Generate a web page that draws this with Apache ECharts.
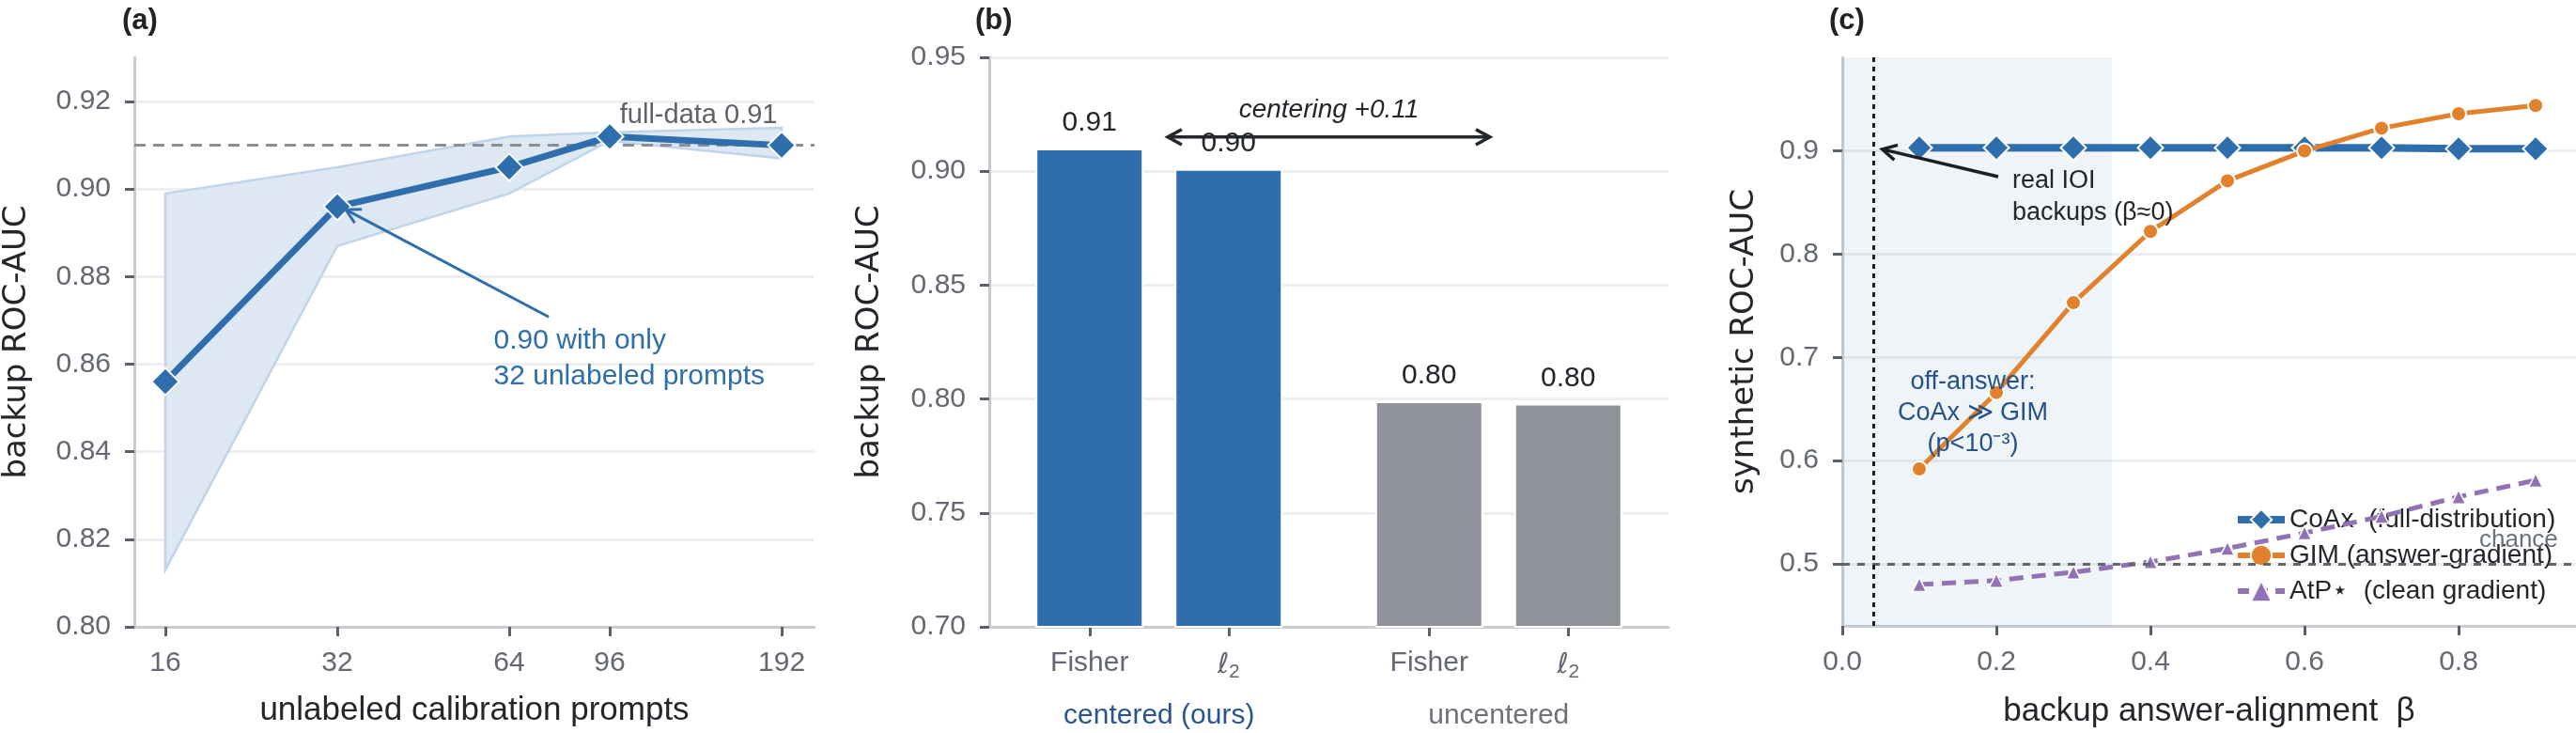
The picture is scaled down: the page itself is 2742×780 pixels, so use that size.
<!DOCTYPE html>
<html lang="en">
<head>
<meta charset="UTF-8">
<title>backup ROC-AUC</title>
<script src="https://cdn.jsdelivr.net/npm/echarts@6/dist/echarts.min.js"></script>
<style>
  html, body { margin: 0; padding: 0; background: #fff; }
  #main { width: 2742px; height: 780px; }
</style>
</head>
<body>
<div id="main"></div>
<script type="text/javascript">
// (a) calibration-set size
var promptCounts = [16, 32, 64, 96, 192];
var aucMean = [0.856, 0.896, 0.905, 0.912, 0.910];
var aucLow  = [0.813, 0.887, 0.899, 0.911, 0.907];
var aucHigh = [0.899, 0.905, 0.912, 0.913, 0.914];
var fullDataAuc = 0.911;
var ticksA = [0.80, 0.82, 0.84, 0.86, 0.88, 0.90, 0.92];

// (b) centering ablation
var groupNames = ['centered (ours)', 'uncentered'];
var fisherAuc = [0.910, 0.799];
var l2Auc = [0.901, 0.798];
var metricNames = ['Fisher', 'ℓ2'];
var ticksB = [0.70, 0.75, 0.80, 0.85, 0.90, 0.95];

// (c) synthetic sweep over beta
var betas   = [0.1, 0.2, 0.3, 0.4, 0.5, 0.6, 0.7, 0.8, 0.9];
var coaxAuc = [0.903, 0.903, 0.903, 0.903, 0.903, 0.903, 0.903, 0.902, 0.902];
var gimAuc  = [0.592, 0.666, 0.753, 0.822, 0.871, 0.900, 0.922, 0.936, 0.944];
var atpAuc  = [0.480, 0.484, 0.492, 0.502, 0.515, 0.530, 0.546, 0.565, 0.581];
var chance = 0.5;
var realBeta = 0.04;
var offAnswerEnd = 0.35;
var ticksCy = [0.5, 0.6, 0.7, 0.8, 0.9];
var ticksCx = [0.0, 0.2, 0.4, 0.6, 0.8];
var seriesNames = ['CoAx  (full-distribution)', 'GIM (answer-gradient)', 'AtP⋆  (clean gradient)'];

var BLUE = '#2e6ead', ORANGE = '#e1812c', PURPLE = '#9271b4', GREYBAR = '#8f9399';
var DARK = '#23262b', TICKTXT = '#636872', TICK = '#5b6068', AXIS = '#c8ccd1', GRID = '#eceef1';
var FONT = 'Liberation Sans';

var barW = 115, barGapPx = 33, gridBW = 723;
var barOff = (barW + barGapPx) / 2 / (gridBW / 2);
var barCenters = [-barOff, barOff, 1 - barOff, 1 + barOff];

var myChart = echarts.init(document.getElementById('main'));

function yAxis(grid, min, max, vals, digits, name, gap) {
    return {
        type: 'value', gridIndex: grid, min: min, max: max,
        name: name, nameLocation: 'middle', nameGap: gap,
        nameTextStyle: { fontFamily: 'DejaVu Sans', fontSize: 34, color: DARK },
        axisLine: { show: true, onZero: false, lineStyle: { color: AXIS, width: 3 } },
        axisTick: { show: true, length: 10, lineStyle: { color: TICK, width: 3 }, customValues: vals },
        axisLabel: { customValues: vals, margin: 25, color: TICKTXT, fontSize: 30, fontFamily: FONT,
            formatter: function (v) { return v.toFixed(digits); } },
        splitLine: { show: true, lineStyle: { color: GRID, width: 3 } }
    };
}

function xLine() {
    return { show: true, onZero: false, lineStyle: { color: AXIS, width: 3 } };
}

var option = {
    animation: false,
    textStyle: { fontFamily: FONT },
    grid: [
        { left: 143, top: 61, width: 724, height: 606 },
        { left: 1053, top: 61, width: gridBW, height: 606 },
        { left: 1961, top: 61, width: 781, height: 606 }
    ],
    xAxis: [
        {
            type: 'value', gridIndex: 0, min: 3.8197, max: 7.776,
            name: 'unlabeled calibration prompts', nameLocation: 'middle', nameGap: 72,
            nameTextStyle: { fontSize: 35, color: DARK },
            axisLine: xLine(),
            axisTick: { show: true, length: 10, lineStyle: { color: TICK, width: 3 },
                customValues: promptCounts.map(Math.log2) },
            axisLabel: { customValues: promptCounts.map(Math.log2), margin: 24, fontSize: 30, color: TICKTXT,
                formatter: function (v) { return String(Math.round(Math.pow(2, v))); } },
            splitLine: { show: false }
        },
        {
            type: 'category', gridIndex: 1, data: groupNames,
            axisLine: xLine(),
            axisTick: { show: false },
            axisLabel: { margin: 80, fontSize: 30,
                formatter: function (v, i) { return (i === 0 ? '{c|' : '{u|') + v + '}'; },
                rich: { c: { color: '#28558d', fontSize: 30 }, u: { color: '#6d727a', fontSize: 30 } } },
            splitLine: { show: false }
        },
        {
            type: 'value', gridIndex: 1, min: -0.5, max: 1.5, position: 'bottom',
            axisLine: { show: false, onZero: false },
            axisTick: { show: true, length: 10, lineStyle: { color: TICK, width: 3 }, customValues: barCenters },
            axisLabel: { customValues: barCenters, margin: 24, fontSize: 30, color: TICKTXT,
                formatter: function (v) {
                    var k = 0;
                    barCenters.forEach(function (c, i) { if (Math.abs(c - v) < 1e-6) k = i; });
                    return k % 2 === 0 ? '{t|' + metricNames[0] + '}' : '{l|ℓ}{s|2}';
                },
                rich: {
                    t: { fontSize: 30, color: TICKTXT },
                    l: { fontSize: 30, color: TICKTXT, fontFamily: 'DejaVu Sans', fontStyle: 'italic' },
                    s: { fontSize: 21, color: TICKTXT, padding: [14, 0, 0, 0] }
                } },
            splitLine: { show: false }
        },
        {
            type: 'value', gridIndex: 2, min: 0, max: 0.9524,
            name: 'backup answer-alignment  β', nameLocation: 'middle', nameGap: 74,
            nameTextStyle: { fontSize: 35, color: DARK },
            axisLine: xLine(),
            axisTick: { show: true, length: 10, lineStyle: { color: TICK, width: 3 }, customValues: ticksCx },
            axisLabel: { customValues: ticksCx, margin: 24, fontSize: 30, color: TICKTXT,
                formatter: function (v) { return v.toFixed(1); } },
            splitLine: { show: false }
        }
    ],
    yAxis: [
        yAxis(0, 0.80, 0.9301, ticksA, 2, 'backup ROC-AUC', 108),
        yAxis(1, 0.70, 0.95, ticksB, 2, 'backup ROC-AUC', 110),
        yAxis(2, 0.44, 0.9906, ticksCy, 1, 'synthetic ROC-AUC', 87)
    ],
    legend: {
        orient: 'vertical', left: 2378, top: 539, padding: 0,
        itemWidth: 50, itemHeight: 28, itemGap: 10,
        textStyle: { fontSize: 28, color: DARK, fontFamily: FONT },
        data: [
            { name: seriesNames[0], lineStyle: { width: 8 } },
            { name: seriesNames[1], lineStyle: { width: 6 } },
            { name: seriesNames[2], lineStyle: { width: 6, type: [12, 8] } }
        ]
    },
    series: [
        {
            // spread band across seeds
            type: 'custom', xAxisIndex: 0, yAxisIndex: 0, z: 1,
            data: promptCounts.map(function (n, i) { return [Math.log2(n), aucLow[i], aucHigh[i]]; }),
            encode: { x: 0, y: [1, 2] },
            renderItem: function (params, api) {
                if (params.dataIndex !== 0) return null;
                var up = promptCounts.map(function (n, i) { return api.coord([Math.log2(n), aucHigh[i]]); });
                var lo = promptCounts.map(function (n, i) { return api.coord([Math.log2(n), aucLow[i]]); }).reverse();
                return { type: 'polygon', shape: { points: up.concat(lo) },
                    style: { fill: '#dde8f3', stroke: '#c0d4e9', lineWidth: 2.5 } };
            }
        },
        {
            name: 'mean', type: 'line', xAxisIndex: 0, yAxisIndex: 0, z: 3,
            data: promptCounts.map(function (n, i) { return [Math.log2(n), aucMean[i]]; }),
            symbol: 'diamond', symbolSize: 29,
            lineStyle: { color: BLUE, width: 7 },
            itemStyle: { color: BLUE, borderColor: '#fff', borderWidth: 2 },
            markLine: {
                silent: true, symbol: 'none', label: { show: false }, z: 2,
                lineStyle: { color: '#8b8f95', width: 3, type: [12, 8] },
                data: [{ yAxis: fullDataAuc }]
            }
        },
        {
            name: 'Fisher', type: 'bar', xAxisIndex: 1, yAxisIndex: 1,
            data: fisherAuc, barWidth: barW, barGap: (barGapPx / barW * 100).toFixed(1) + '%',
            itemStyle: { color: function (p) { return p.dataIndex === 0 ? BLUE : GREYBAR; }, borderColor: '#fff', borderWidth: 2 },
            label: { show: true, position: 'top', distance: 12, fontSize: 30, color: DARK,
                formatter: function (p) { return p.value.toFixed(2); } }
        },
        {
            name: 'l2', type: 'bar', xAxisIndex: 1, yAxisIndex: 1,
            data: l2Auc, barWidth: barW,
            itemStyle: { color: function (p) { return p.dataIndex === 0 ? BLUE : GREYBAR; }, borderColor: '#fff', borderWidth: 2 },
            label: { show: true, position: 'top', distance: 12, fontSize: 30, color: DARK,
                formatter: function (p) { return p.value.toFixed(2); } }
        },
        {
            name: seriesNames[0], type: 'line', xAxisIndex: 3, yAxisIndex: 2, z: 3,
            data: betas.map(function (b, i) { return [b, coaxAuc[i]]; }),
            symbol: 'diamond', symbolSize: 27,
            lineStyle: { color: BLUE, width: 8 },
            itemStyle: { color: BLUE, borderColor: '#fff', borderWidth: 2 },
            markArea: {
                silent: true, itemStyle: { color: 'rgba(46,111,173,0.08)' },
                data: [[{ xAxis: 0 }, { xAxis: offAnswerEnd }]]
            },
            markLine: {
                silent: true, symbol: 'none', label: { show: false },
                data: [
                    { yAxis: chance, lineStyle: { color: '#60666e', width: 3, type: [8, 8] } },
                    { xAxis: realBeta, lineStyle: { color: '#1c1e22', width: 3, type: [5, 5] } }
                ]
            }
        },
        {
            name: seriesNames[1], type: 'line', xAxisIndex: 3, yAxisIndex: 2, z: 4,
            data: betas.map(function (b, i) { return [b, gimAuc[i]]; }),
            symbol: 'circle', symbolSize: 16,
            lineStyle: { color: ORANGE, width: 5 },
            itemStyle: { color: ORANGE, borderColor: '#fff', borderWidth: 2 }
        },
        {
            name: seriesNames[2], type: 'line', xAxisIndex: 3, yAxisIndex: 2, z: 4,
            data: betas.map(function (b, i) { return [b, atpAuc[i]]; }),
            symbol: 'triangle', symbolSize: 15,
            lineStyle: { color: PURPLE, width: 5, type: [15, 9] },
            itemStyle: { color: PURPLE, borderColor: '#fff', borderWidth: 1.5 }
        }
    ]
};

myChart.setOption(option);

// annotations placed in data coordinates
function at(xi, yi, x, y) { return myChart.convertToPixel({ xAxisIndex: xi, yAxisIndex: yi }, [x, y]); }

function arrowHead(tip, from, len, color, w) {
    var ang = Math.atan2(tip[1] - from[1], tip[0] - from[0]);
    var a1 = ang + Math.PI - 0.5, a2 = ang + Math.PI + 0.5;
    return { type: 'polyline', z: 50,
        shape: { points: [[tip[0] + len * Math.cos(a1), tip[1] + len * Math.sin(a1)], tip,
                          [tip[0] + len * Math.cos(a2), tip[1] + len * Math.sin(a2)]] },
        style: { stroke: color, lineWidth: w, fill: null } };
}
function arrow(p0, p1, color, w, both) {
    var out = [{ type: 'line', z: 50, shape: { x1: p0[0], y1: p0[1], x2: p1[0], y2: p1[1] },
        style: { stroke: color, lineWidth: w } }, arrowHead(p1, p0, 17, color, w)];
    if (both) out.push(arrowHead(p0, p1, 17, color, w));
    return out;
}
function txt(p, s, o) {
    o = o || {};
    return { type: 'text', z: 60, x: p[0], y: p[1],
        style: { text: s, fill: o.color || DARK, fontSize: o.size || 28, fontFamily: o.family || FONT,
            fontWeight: o.weight || 'normal', fontStyle: o.style || 'normal',
            align: o.align || 'left', verticalAlign: 'middle', lineHeight: o.lh || 36 } };
}

var g = [];
g.push(txt([130, 22], '(a)', { size: 31, weight: 'bold', color: '#222' }));
g.push(txt([1038, 22], '(b)', { size: 31, weight: 'bold', color: '#222' }));
g.push(txt([1947, 22], '(c)', { size: 31, weight: 'bold', color: '#222' }));

g.push(txt(at(0, 0, 7.56, 0.9167), 'full-data 0.91', { align: 'right', size: 29, color: '#5d626a' }));
g.push(txt(at(0, 0, 5.91, 0.8613), '0.90 with only\n32 unlabeled prompts', { size: 30, color: BLUE, lh: 38 }));
g = g.concat(arrow(at(0, 0, 6.23, 0.8708), at(0, 0, 5.05, 0.8953), BLUE, 3));

g = g.concat(arrow(at(2, 1, 0.0256, 0.915), at(2, 1, 0.974, 0.915), DARK, 3.5, true));
g.push(txt(at(2, 1, 0.5, 0.927), 'centering +0.11', { align: 'center', size: 28, style: 'italic' }));

g.push(txt(at(3, 2, 0.2207, 0.855), 'real IOI\nbackups (β≈0)', { size: 27, lh: 34 }));
g = g.concat(arrow(at(3, 2, 0.2024, 0.875), at(3, 2, 0.052, 0.9015), '#1c1e22', 3.5));
g.push(txt(at(3, 2, 0.1695, 0.6465), 'off-answer:\nCoAx ≫ GIM\n(p<10⁻³)', { align: 'center', size: 27, color: '#24518a', lh: 33 }));
g.push(txt(at(3, 2, 0.929, 0.5227), 'chance', { align: 'right', size: 26, color: '#6c727a' }));

myChart.setOption({ graphic: g });
</script>
</body>
</html>
